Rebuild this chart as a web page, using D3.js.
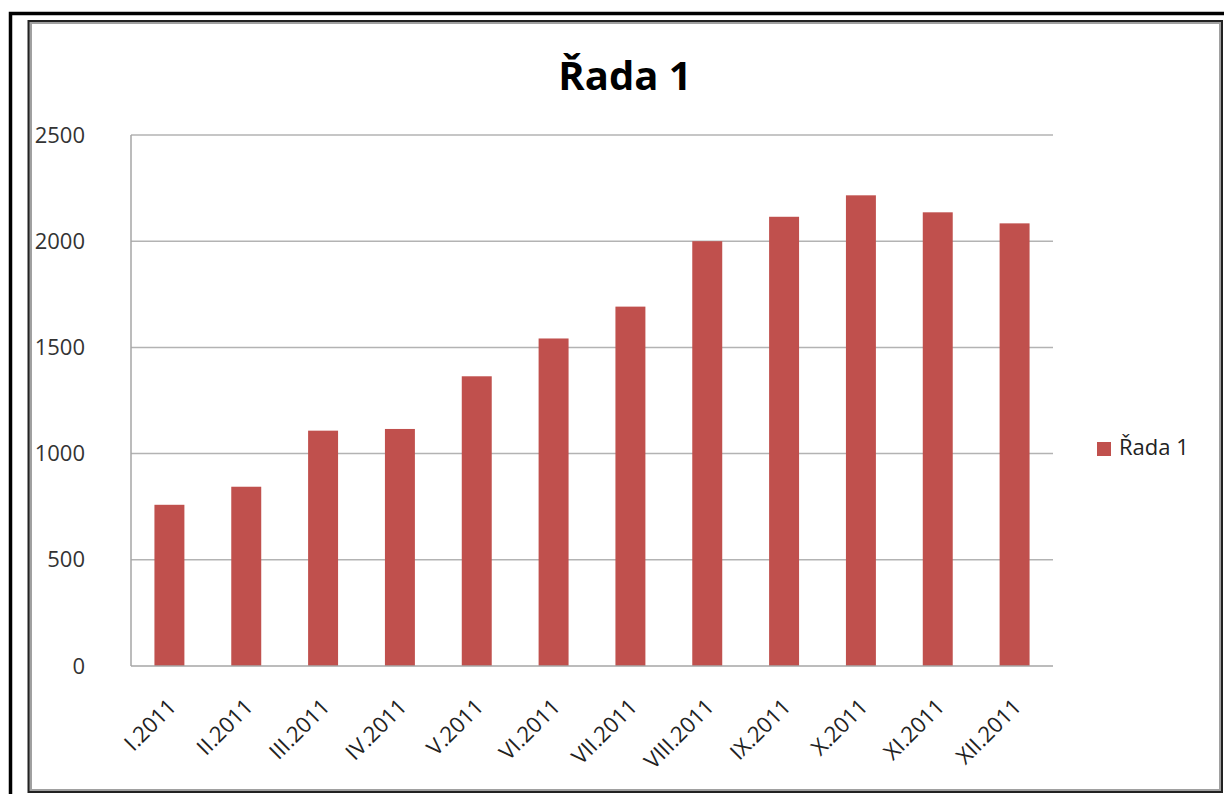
<!DOCTYPE html>
<html>
<head>
<meta charset="utf-8">
<script src="https://cdn.jsdelivr.net/npm/d3@7"></script>
<style>
  html, body { margin: 0; padding: 0; background: #fff; }
  svg { display: block; }
  text { font-family: "Open Sans", "Noto Sans", sans-serif; }
</style>
</head>
<body>
<svg id="chart" width="1224" height="794"></svg>
<script>
const title = "Řada 1";
const seriesName = "Řada 1";
const categories = ["I.2011","II.2011","III.2011","IV.2011","V.2011","VI.2011","VII.2011","VIII.2011","IX.2011","X.2011","XI.2011","XII.2011"];
const values = [759, 844, 1108, 1116, 1364, 1542, 1692, 2000, 2115, 2216, 2136, 2084];
const yTicks = [0, 500, 1000, 1500, 2000, 2500];

const svg = d3.select("#chart");
const W = 1224, H = 794;

// outer black frame
svg.append("rect").attr("x", 10.5).attr("y", 13.5).attr("width", W + 20).attr("height", H + 20)
  .attr("fill", "none").attr("stroke", "#000").attr("stroke-width", 3.5);
// inner chart frame with shadow
svg.append("rect").attr("x", 30.5).attr("y", 22.5).attr("width", 1190).attr("height", 768)
  .attr("fill", "#fff").attr("stroke", "#a0a0a0").attr("stroke-width", 3);
svg.append("rect").attr("x", 28.5).attr("y", 21).attr("width", 1193.5).attr("height", 771)
  .attr("fill", "none").attr("stroke", "#222").attr("stroke-width", 2);

const plot = { left: 131, right: 1053, top: 135, bottom: 666 };

const x = d3.scaleBand().domain(categories).range([plot.left, plot.right]).paddingInner(0.61).paddingOuter(0.305);
const y = d3.scaleLinear().domain([0, 2500]).range([plot.bottom, plot.top]);

// gridlines
svg.append("g").selectAll("line").data(yTicks.filter(d => d > 0)).join("line")
  .attr("x1", plot.left).attr("x2", plot.right)
  .attr("y1", d => y(d)).attr("y2", d => y(d))
  .attr("stroke", "#b3b3b3").attr("stroke-width", 1.5);

// bars
svg.append("g").selectAll("rect").data(values).join("rect")
  .attr("x", (d, i) => x(categories[i]))
  .attr("y", d => y(d))
  .attr("width", x.bandwidth())
  .attr("height", d => y(0) - y(d))
  .attr("fill", "#c0504d");

// axes lines
svg.append("line").attr("x1", plot.left).attr("x2", plot.left).attr("y1", plot.top).attr("y2", plot.bottom)
  .attr("stroke", "#a6a6a6").attr("stroke-width", 1.5);
svg.append("line").attr("x1", plot.left).attr("x2", plot.right).attr("y1", plot.bottom).attr("y2", plot.bottom)
  .attr("stroke", "#a6a6a6").attr("stroke-width", 1.5);

// y axis labels
const yAxis = d3.axisLeft(y).tickValues(yTicks).tickFormat(d3.format("d")).tickSize(0).tickPadding(46);
const gy = svg.append("g").attr("transform", `translate(${plot.left},0)`).call(yAxis);
gy.select(".domain").remove();
gy.selectAll("text").attr("font-size", 22).attr("fill", "#333").attr("font-family", "Open Sans");

// x axis labels
const xAxis = d3.axisBottom(x).tickSize(0).tickPadding(0);
const gx = svg.append("g").attr("transform", `translate(0,${plot.bottom})`).call(xAxis);
gx.select(".domain").remove();
gx.selectAll("text")
  .attr("font-size", 22).attr("fill", "#222").attr("font-family", "Open Sans")
  .attr("text-anchor", "end").attr("dy", null).attr("y", 0)
  .attr("dominant-baseline", "middle")
  .attr("transform", "translate(4,38) rotate(-45)");

// title
svg.append("text").attr("x", 625).attr("y", 90).attr("text-anchor", "middle")
  .attr("font-size", 40).attr("font-weight", "bold").attr("fill", "#000").text(title);

// legend
svg.append("rect").attr("x", 1097).attr("y", 442).attr("width", 14).attr("height", 14).attr("fill", "#c0504d");
svg.append("text").attr("x", 1119).attr("y", 449).attr("dominant-baseline", "middle")
  .attr("font-size", 22).attr("fill", "#222").text(seriesName);
</script>
</body>
</html>
